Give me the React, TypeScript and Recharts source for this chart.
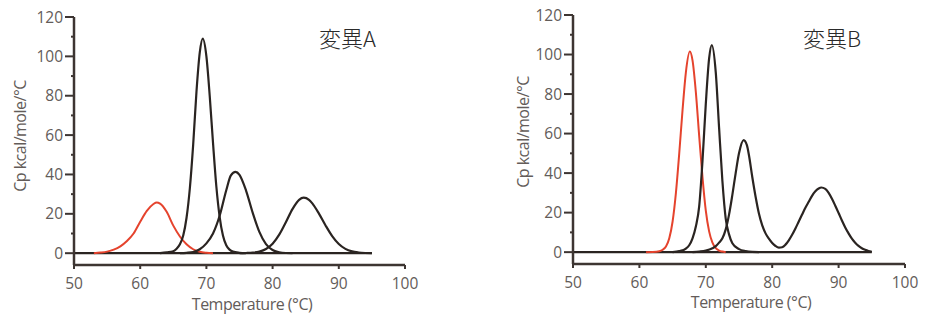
import React from "react";
import { LineChart, Line, XAxis, YAxis } from "recharts";

// temperature ticks and Cp ticks
const xTicks = [50, 60, 70, 80, 90, 100];
const yTicks = [0, 10, 20, 30, 40, 50, 60, 70, 80, 90, 100, 110, 120];

// [temperature °C, Cp kcal/mole/°C]
const baseline: [number, number][] = [[50, 0], [95, 0]];

const redA: [number, number][] = [[53, 0], [54, 0.3], [55, 0.8], [56, 1.8], [57, 3.5], [58, 6.2], [59, 10], [60, 16], [61, 21.5], [62, 25], [62.5, 25.8], [63, 25.2], [64, 21], [65, 14], [66, 8.5], [67, 4.5], [68, 2], [69, 0.7], [70, 0.2], [71, 0]];
const blackA1: [number, number][] = [[63, 0], [64, 0.4], [65, 1], [65.5, 2.3], [66, 4.5], [66.5, 9], [67, 18], [67.5, 33], [68, 55], [68.5, 82], [69, 102], [69.45, 109], [70, 100], [70.5, 80], [71, 56], [71.5, 34], [72, 18.5], [72.5, 9], [73, 4], [73.5, 1.8], [74, 0.8], [75, 0.2], [76, 0]];
const blackA2: [number, number][] = [[66, 0], [67, 0.2], [68, 0.6], [69, 2], [70, 5], [71, 10], [72, 19], [73, 32], [73.7, 39.5], [74.4, 41.3], [75, 39.8], [76, 31.7], [77, 20.5], [78, 10.8], [79, 4.6], [80, 1.6], [81, 0.5], [82, 0.1], [83, 0]];
const blackA3: [number, number][] = [[75, 0], [76, 0.1], [77, 0.3], [78, 0.8], [79, 2.1], [80, 4.8], [81, 9.4], [82, 15.7], [83, 22.4], [84, 27.1], [84.7, 28.2], [85.5, 27.1], [86, 25.3], [87, 20.1], [88, 14.1], [89, 8.7], [90, 4.7], [91, 2.2], [92, 0.9], [93, 0.35], [94, 0.1], [95, 0]];

const redB: [number, number][] = [[61, 0], [62, 0.1], [63, 0.5], [63.5, 1.2], [64, 2.8], [64.5, 7], [65, 15.5], [65.5, 30], [66, 50], [66.5, 72], [67, 91], [67.6, 101.5], [68, 97], [68.5, 81], [69, 59], [69.5, 38], [70, 21], [70.5, 10.5], [71, 4.8], [71.5, 2], [72, 0.8], [72.5, 0.3], [73, 0]];
const blackB1: [number, number][] = [[65, 0], [66, 0.5], [67, 1.8], [67.5, 3.5], [68, 7], [68.5, 13], [69, 23], [69.5, 46], [70, 75], [70.5, 98], [70.9, 104.8], [71.5, 91], [72, 63], [72.5, 36], [73, 17], [73.5, 9], [74, 4.5], [75, 1.5], [76, 0.5], [77, 0.1], [78, 0]];
const blackB2: [number, number][] = [[68, 0], [69, 0.3], [70, 0.8], [71, 2], [71.5, 3], [72, 4.8], [72.5, 7], [73, 11.5], [73.5, 19], [74, 29], [74.5, 40], [75, 50], [75.7, 56.7], [76.2, 54], [76.5, 49], [77, 38], [77.5, 28], [78, 19.5], [78.5, 13.5], [79, 9.5], [79.5, 6.8], [80, 4.6], [80.5, 3.1], [81, 2.3], [81.5, 2.5], [82, 3.8], [82.5, 6], [83, 8.8], [83.5, 12], [84, 15.5], [84.5, 19], [85, 22.5], [85.5, 25.5], [86, 28.5], [86.5, 30.8], [87, 32.2], [87.4, 32.7], [88, 32], [88.5, 30], [89, 27], [89.5, 23.5], [90, 19.8], [90.5, 16], [91, 12.5], [91.5, 9.5], [92, 6.8], [92.5, 4.8], [93, 3.2], [93.5, 2], [94, 1.2], [94.5, 0.6], [95, 0.2]];

const RED = "#e5432d";
const BLACK = "#2a2421";
const AXIS = "#3d3532";
const TICK_TEXT = "#635c59";
const FONT = "'Open Sans', sans-serif";

const toRows = (pts: [number, number][]) => pts.map(([t, cp]) => ({ t, cp }));

const YTick = (props: any) => {
  const { x, y, payload } = props;
  const major = payload.value % 20 === 0;
  return (
    <g>
      <line x1={x - (major ? 9 : 3)} x2={x} y1={y} y2={y} stroke={AXIS} strokeWidth={2} />
      {major && (
        <text x={x - 11} y={y + 5.5} textAnchor="end" fill={TICK_TEXT} fontSize={15.5} fontFamily={FONT}>
          {payload.value}
        </text>
      )}
    </g>
  );
};

const XTick = (props: any) => {
  const { x, y, payload } = props;
  return (
    <g>
      <line x1={x} x2={x} y1={y} y2={y + 4} stroke={AXIS} strokeWidth={2} />
      <text x={x} y={y + 24} textAnchor="middle" fill={TICK_TEXT} fontSize={15.5} fontFamily={FONT}>
        {payload.value}
      </text>
    </g>
  );
};

interface PanelProps {
  left: number;
  width: number;
  margin: { top: number; right: number; bottom: number; left: number };
  red: [number, number][];
  blacks: [number, number][][];
  title: string;
  titleX: number;
  yLabelX: number;
  yLabelY: number;
  xLabelX: number;
  xLabelY: number;
}

function Panel({ left, width, margin, red, blacks, title, titleX, yLabelX, yLabelY, xLabelX, xLabelY }: PanelProps) {
  return (
    <>
      <div style={{ position: "absolute", left, top: 0 }}>
        <LineChart width={width} height={320} margin={margin}>
          <XAxis
            type="number"
            dataKey="t"
            domain={[50, 100]}
            ticks={xTicks}
            height={30}
            tickSize={0}
            tickMargin={0}
            tickLine={false}
            tick={<XTick />}
            axisLine={{ stroke: AXIS, strokeWidth: 2.5 }}
            allowDataOverflow
          />
          <YAxis
            type="number"
            dataKey="cp"
            domain={[-6, 120]}
            ticks={yTicks}
            width={60}
            tickSize={0}
            tickMargin={0}
            tickLine={false}
            tick={<YTick />}
            axisLine={{ stroke: AXIS, strokeWidth: 2.5 }}
            interval={0}
            allowDataOverflow
          />
          <Line data={toRows(baseline)} dataKey="cp" stroke={BLACK} strokeWidth={2.2} dot={false} activeDot={false} isAnimationActive={false} />
          <Line data={toRows(red)} dataKey="cp" type="monotone" stroke={RED} strokeWidth={2} dot={false} activeDot={false} isAnimationActive={false} />
          {blacks.map((b, i) => (
            <Line key={i} data={toRows(b)} dataKey="cp" type="monotone" stroke={BLACK} strokeWidth={2.2} dot={false} activeDot={false} isAnimationActive={false} />
          ))}
        </LineChart>
      </div>
      <div style={{ position: "absolute", left: titleX, top: 22, fontSize: 22, fontWeight: 300, fontFamily: "'Noto Sans CJK JP', sans-serif", color: "#2a2a2a", lineHeight: "30px", whiteSpace: "nowrap" }}>
        {title}
      </div>
      <div
        style={{
          position: "absolute",
          left: yLabelX,
          top: yLabelY,
          transform: "translate(-50%, -50%) rotate(-90deg)",
          fontSize: 16,
          letterSpacing: -0.5,
          fontFamily: FONT,
          color: TICK_TEXT,
          whiteSpace: "nowrap",
          lineHeight: "18px",
        }}
      >
        Cp kcal/mole/°C
      </div>
      <div
        style={{
          position: "absolute",
          left: xLabelX,
          top: xLabelY,
          transform: "translate(-50%, -50%)",
          fontSize: 16,
          letterSpacing: -0.5,
          fontFamily: FONT,
          color: TICK_TEXT,
          whiteSpace: "nowrap",
          lineHeight: "18px",
        }}
      >
        Temperature (°C)
      </div>
    </>
  );
}

export default function App() {
  return (
    <div style={{ position: "absolute", left: 0, top: 0, width: 935, height: 320, background: "#fff", overflow: "hidden" }}>
      <Panel
        left={0}
        width={420}
        margin={{ top: 17, right: 15, bottom: 25, left: 14 }}
        red={redA}
        blacks={[blackA1, blackA2, blackA3]}
        title="変異A"
        titleX={319}
        yLabelX={20}
        yLabelY={136}
        xLabelX={252}
        xLabelY={304}
      />
      <Panel
        left={490}
        width={445}
        margin={{ top: 15, right: 30, bottom: 26, left: 23 }}
        red={redB}
        blacks={[blackB1, blackB2]}
        title="変異B"
        titleX={803}
        yLabelX={523}
        yLabelY={132}
        xLabelX={751}
        xLabelY={302}
      />
    </div>
  );
}
